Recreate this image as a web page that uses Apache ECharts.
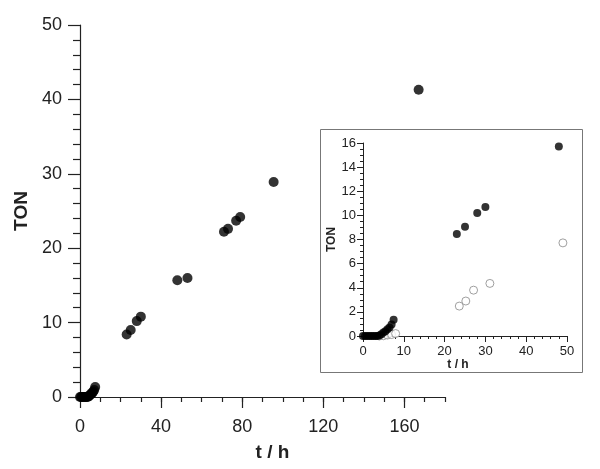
<!DOCTYPE html>
<html>
<head>
<meta charset="utf-8">
<script src="https://cdn.jsdelivr.net/npm/echarts@6/dist/echarts.min.js"></script>
<style>html,body{margin:0;padding:0;background:#fff}#c{width:600px;height:469px}</style>
</head>
<body>
<div id="c"></div>
<script>
// Main chart: filled circles (t / h, TON)
const mainT   = [0,0.5,1,1.5,2,2.5,3,3.5,4,4.5,5,5.5,6,6.5,7,7.5,23,25,28,30,48,53,71,73,77,79,95.5,167];
const mainTON = [0,0,0,0,0,0,0,0,0.05,0.15,0.3,0.4,0.55,0.7,0.95,1.35,8.4,9.0,10.2,10.8,15.7,16.0,22.2,22.6,23.7,24.2,28.9,41.3];
// Inset: filled series
const insetFilledT   = [0,0.5,1,1.5,2,2.5,3,3.5,4,4.5,5,5.5,6,6.5,7,7.5,23,25,28,30,48];
const insetFilledTON = [0,0,0,0,0,0,0,0,0.05,0.15,0.3,0.4,0.55,0.7,0.95,1.35,8.45,9.05,10.2,10.7,15.7];
// Inset: open series
const insetOpenT   = [4,5,6,7,8,23.6,25.2,27.1,31.1,49];
const insetOpenTON = [0,0.02,0.08,0.12,0.2,2.48,2.9,3.8,4.36,7.72];
// Tick labels
const mainXLabels = [0,40,80,120,160];
const mainXMinor = [0,10,20,30,40,50,60,70,80,90,100,110,120,130,140,150,160,170,180];

const zip = (a,b) => a.map((v,i)=>[v,b[i]]);
const FONT = 'Liberation Sans';
const ink = '#222';

const chart = echarts.init(document.getElementById('c'), null, {renderer:'canvas'});
chart.setOption({
  animation:false,
  backgroundColor:'#fff',
  textStyle:{fontFamily:FONT},
  grid:[
    {left:80, top:25, width:365, height:372},
    {left:363, top:143, width:204, height:193}
  ],
  graphic:[{
    type:'rect', shape:{x:320.5,y:129.5,width:262,height:243},
    style:{fill:'transparent', stroke:'#777', lineWidth:1}, z:-1
  }],
  xAxis:[
    {gridIndex:0, type:'value', min:0, max:180, interval:10, position:'bottom',
     name:'t / h', nameLocation:'middle', nameGap:46,
     nameTextStyle:{fontFamily:FONT, fontSize:19, fontWeight:'bold', color:ink, padding:[0,0,0,20]},
     axisLine:{onZero:false, lineStyle:{color:ink, width:1.2}},
     axisTick:{show:true, length:5, lineStyle:{color:ink, width:1.2}, customValues:mainXMinor},
     axisLabel:{customValues:mainXLabels, margin:21, fontFamily:FONT, fontSize:18, color:ink},
     splitLine:{show:false}},
    {gridIndex:0, type:'value', min:0, max:180, position:'bottom',
     axisLine:{show:false},
     axisTick:{show:true, length:11, lineStyle:{color:ink, width:1.2}, customValues:mainXLabels},
     axisLabel:{show:false}, splitLine:{show:false}},
    {gridIndex:1, type:'value', min:0, max:50, interval:10,
     name:'t / h', nameLocation:'middle', nameGap:22,
     nameTextStyle:{fontFamily:FONT, fontSize:12, fontWeight:'bold', color:ink, padding:[0,14,0,0]},
     axisLine:{onZero:false, lineStyle:{color:ink, width:1}},
     axisTick:{show:true, length:6, lineStyle:{color:ink}},
     minorTick:{show:true, splitNumber:5, length:3, lineStyle:{color:ink}},
     axisLabel:{margin:9, fontFamily:FONT, fontSize:13, color:ink},
     splitLine:{show:false}, minorSplitLine:{show:false}}
  ],
  yAxis:[
    {gridIndex:0, type:'value', min:0, max:50, interval:10,
     name:'TON', nameLocation:'middle', nameGap:45,
     nameTextStyle:{fontFamily:FONT, fontSize:19, fontWeight:'bold', color:ink, padding:[8,0,0,0]},
     axisLine:{show:true, onZero:false, lineStyle:{color:ink, width:1.2}},
     axisTick:{show:true, length:12, lineStyle:{color:ink, width:1.2}},
     minorTick:{show:true, splitNumber:5, length:7, lineStyle:{color:ink, width:1.2}},
     axisLabel:{margin:18, fontFamily:FONT, fontSize:18, color:ink},
     splitLine:{show:false}, minorSplitLine:{show:false}},
    {gridIndex:1, type:'value', min:0, max:16, interval:2,
     name:'TON', nameLocation:'middle', nameGap:24,
     nameTextStyle:{fontFamily:FONT, fontSize:12, fontWeight:'bold', color:ink},
     axisLine:{show:true, onZero:false, lineStyle:{color:ink, width:1}},
     axisTick:{show:true, length:6, lineStyle:{color:ink}},
     minorTick:{show:true, splitNumber:4, length:3, lineStyle:{color:ink}},
     axisLabel:{margin:7, fontFamily:FONT, fontSize:13, color:ink},
     splitLine:{show:false}, minorSplitLine:{show:false}}
  ],
  series:[
    {type:'scatter', xAxisIndex:0, yAxisIndex:0, symbol:'circle', symbolSize:10,
     itemStyle:{color:'#000'}, data:zip(mainT, mainTON), z:3},
    {type:'scatter', xAxisIndex:2, yAxisIndex:1, symbol:'circle', symbolSize:8,
     itemStyle:{color:'#fff', borderColor:'#888', borderWidth:1}, data:zip(insetOpenT, insetOpenTON), z:3},
    {type:'scatter', xAxisIndex:2, yAxisIndex:1, symbol:'circle', symbolSize:8,
     itemStyle:{color:'#000'}, data:zip(insetFilledT, insetFilledTON), z:4}
  ]
});
</script>
</body>
</html>
